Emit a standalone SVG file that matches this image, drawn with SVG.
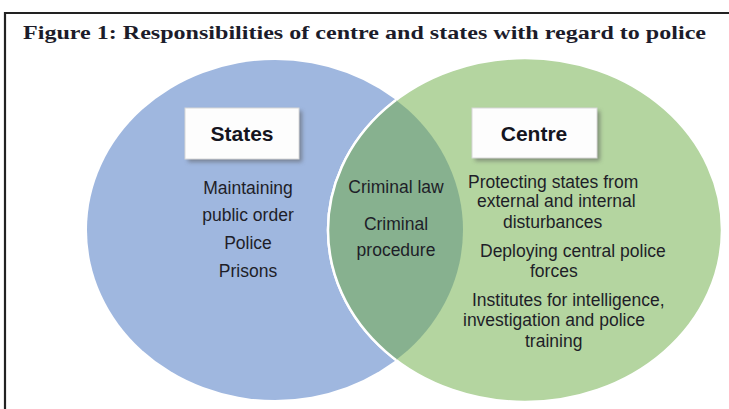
<svg xmlns="http://www.w3.org/2000/svg" width="729" height="409" viewBox="0 0 729 409">
  <style>
    .title { font-family: "Liberation Serif", "Times New Roman", serif; font-weight: bold; font-size: 19.5px; fill: #1c1c2a; }
    .head { font-family: "Liberation Sans", Arial, sans-serif; font-weight: bold; font-size: 21px; fill: #15151f; text-anchor: middle; }
    .item { font-family: "Liberation Sans", Arial, sans-serif; font-size: 17.5px; fill: #1e1e28; }
    .mid { text-anchor: middle; }
    .box { fill: #fdfdfd; stroke: #d8d8d8; stroke-width: 1; }
    .shadow { fill: #555; opacity: 0.55; }
  </style>
  <defs>
    <filter id="blur" x="-20%" y="-20%" width="140%" height="140%">
      <feGaussianBlur stdDeviation="2"/>
    </filter>
    <clipPath id="blueClip">
      <ellipse cx="275" cy="230" rx="188" ry="170"/>
    </clipPath>
  </defs>
  <rect x="0" y="0" width="729" height="409" fill="#ffffff"/>
  <g id="frame">
    <line x1="5" y1="13" x2="729" y2="13" stroke="#222" stroke-width="2"/>
    <line x1="5" y1="12" x2="5" y2="409" stroke="#222" stroke-width="2.2"/>
  </g>
  <text class="title" x="23" y="39" textLength="683" lengthAdjust="spacingAndGlyphs">Figure 1: Responsibilities of centre and states with regard to police</text>

  <g id="states">
    <ellipse cx="275" cy="230" rx="188" ry="170" fill="#9fb7df"/>
  </g>
  <g id="centre">
    <ellipse cx="525" cy="230" rx="197" ry="172" fill="#b4d5a0" stroke="#ffffff" stroke-width="2.5"/>
  </g>
  <g id="overlap">
    <ellipse cx="525" cy="230" rx="197" ry="172" fill="#87b18f" stroke="#ffffff" stroke-width="2.5" clip-path="url(#blueClip)"/>
  </g>

  <g id="states-box">
    <rect class="shadow" x="188" y="111" width="114" height="51" filter="url(#blur)"/>
    <rect class="box" x="185" y="108" width="114" height="51"/>
    <text class="head" x="242" y="141">States</text>
  </g>
  <g id="centre-box">
    <rect class="shadow" x="475" y="111" width="125" height="50" filter="url(#blur)"/>
    <rect class="box" x="472" y="108" width="125" height="50"/>
    <text class="head" x="534" y="141">Centre</text>
  </g>

  <g id="states-items" class="item">
    <text class="mid" x="248" y="194">Maintaining</text>
    <text class="mid" x="248" y="221">public order</text>
    <text class="mid" x="248" y="249">Police</text>
    <text class="mid" x="248" y="277">Prisons</text>
  </g>
  <g id="shared-items" class="item">
    <text class="mid" x="396" y="193">Criminal law</text>
    <text class="mid" x="396" y="230">Criminal</text>
    <text class="mid" x="396" y="256">procedure</text>
  </g>
  <g id="centre-items" class="item">
    <text x="468" y="188">Protecting states from</text>
    <text x="477" y="207">external and internal</text>
    <text x="503" y="228">disturbances</text>
    <text x="480" y="257">Deploying central police</text>
    <text x="530" y="277">forces</text>
    <text x="472" y="306">Institutes for intelligence,</text>
    <text x="463" y="326">investigation and police</text>
    <text x="525" y="347">training</text>
  </g>
</svg>
